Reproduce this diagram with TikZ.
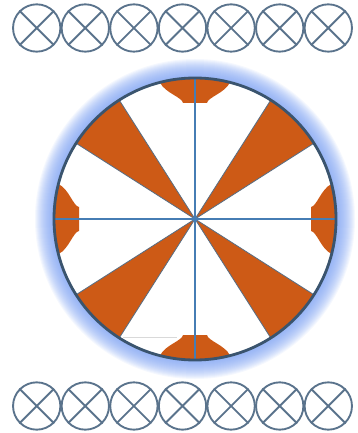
\documentclass[tikz,border=0pt]{standalone}
\usepackage{xcolor,tikz}
\usetikzlibrary{calc}
\definecolor{xring}{RGB}{90,115,140}
\definecolor{rim}{RGB}{58,84,110}
\definecolor{sail}{RGB}{205,90,22}
\definecolor{axisblue}{RGB}{70,125,180}
\definecolor{halo}{RGB}{120,158,242}
\begin{document}
\begin{tikzpicture}[x=0.03cm,y=-0.03cm,
  xmark/.style={circle,draw=xring,line width=1.6pt,minimum size=1.42cm,inner sep=0pt},
  xline/.style={xring,line width=1.6pt},
  sector/.style={fill=sail,draw=rim!85,line width=0.7pt}]
\useasboundingbox (0,0) rectangle (357,433);
\coordinate (O) at (195,219);
% rows of crossed circles
\foreach \i in {1,...,7}{
  \node[xmark] (t\i) at (36.7+48.6*\i-48.6,28){};
  \node[xmark] (b\i) at (36.7+48.6*\i-48.6,406){};
  \draw[xline] (t\i.north west)--(t\i.south east) (t\i.north east)--(t\i.south west);
  \draw[xline] (b\i.north west)--(b\i.south east) (b\i.north east)--(b\i.south west);}
% glow round the disc
\foreach \r in {1,...,19}
  \fill[halo,opacity=0.075] (O) circle (141+\r);
\fill[white] (O) circle (141);
% diagonal wedges
\foreach \a in {45,135,225,315}
  \draw[sector] (O) -- ++(\a-12.5:141) arc (\a-12.5:\a+12.5:141) -- cycle;
% caps on the axes
\foreach \a in {0,90,180,270}{
  \begin{scope}[shift={(O)},rotate=\a]
  \fill[sail] (116,-12) -- (116,12) .. controls (122,13) and (126,30) .. (136.6,35)
    arc (14.4:-14.4:141) .. controls (126,-30) and (122,-13) .. (116,-12) -- cycle;
  \end{scope}}
\draw[gray!30,line width=0.5pt] (123,337) -- (177,337);
% axes
\coordinate (n) at ($(O)+(0,-141)$); \coordinate (s) at ($(O)+(0,141)$);
\coordinate (w) at ($(O)+(-141,0)$); \coordinate (e) at ($(O)+(141,0)$);
\draw[axisblue,line width=1.1pt] (n)--(s) (w)--(e);
\fill[axisblue] (O) circle (3);
\draw[rim,line width=2.4pt] (O) circle (141);
\end{tikzpicture}
\end{document}
